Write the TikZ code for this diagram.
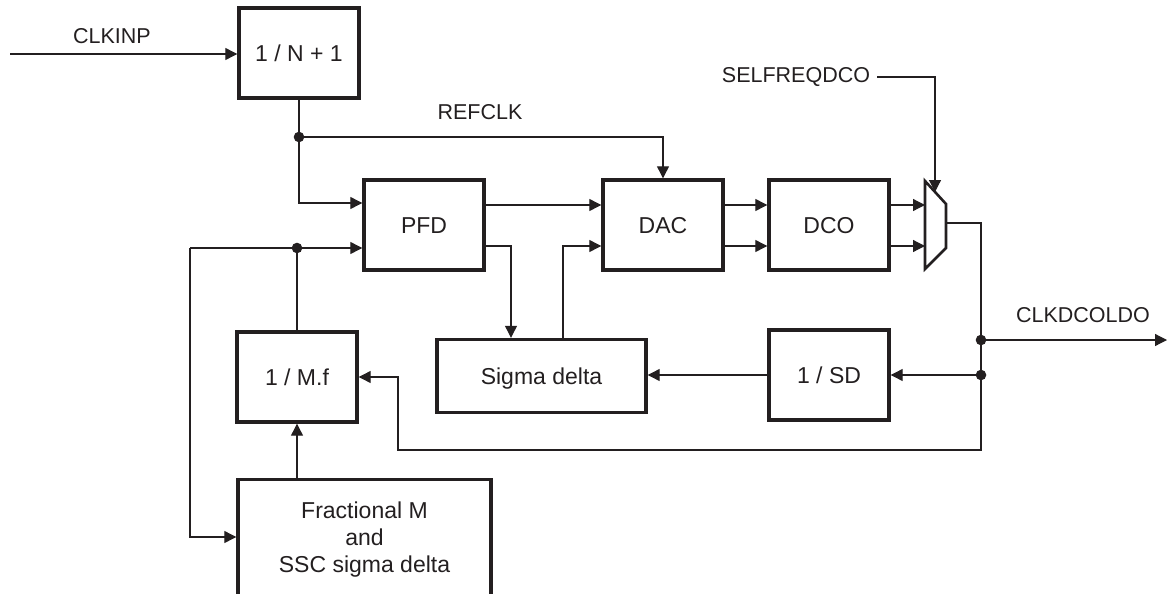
\documentclass[tikz,border=0pt]{standalone}
\usepackage{fontspec}
\setmainfont{Liberation Sans}
\usetikzlibrary{arrows.meta,calc}
\definecolor{ink}{HTML}{231F20}
\begin{document}
\begin{tikzpicture}[x=1pt,y=-1pt,
  blk/.style={draw=ink, line width=3.4pt, inner sep=0pt, font=\fontsize{23}{27}\selectfont, text=ink},
  bw/.style={minimum width=120pt, minimum height=90pt, text height=16.5pt, text depth=0pt},
  lbl/.style={font=\fontsize{21.5}{25}\selectfont, text=ink, inner sep=0pt},
  conn/.style={draw=ink, line width=1.2pt},
  arr/.style={conn, -{Triangle[length=12pt,width=12pt]}},
  jdot/.style={fill=ink}]

\useasboundingbox (0,0) rectangle (1167,594);
\clip (0,0) rectangle (1167,594);

% blocks
\node[blk,bw] (divn) at (299,53) {1 / N + 1};
\node[blk,bw] (pfd) at (424,225) {PFD};
\node[blk,bw] (dac) at (663,225) {DAC};
\node[blk,bw] (dco) at (829,225) {DCO};
\node[blk,minimum width=209pt,minimum height=73pt,text height=16.5pt,text depth=0pt] (sigma) at (541.5,376) {Sigma delta};
\node[blk,bw] (sdiv) at (829,375) {1 / SD};
\node[blk,bw] (mf) at (297,377) {1 / M.f};
\node[blk,minimum width=253pt,minimum height=121pt,align=center] (frac) at (364.5,540) {Fractional M\\and\\SSC sigma delta};

% labels
\node[lbl] (clkinp) at (112,36) {CLKINP};
\node[lbl] (refclk) at (480,112) {REFCLK};
\node[lbl] (sel) at (796,77) {SELFREQDCO};
\node[lbl] (clkout) at (1083,315) {CLKDCOLDO};

% mux
\coordinate (m1) at (925,181);
\coordinate (m2) at (946,204);
\coordinate (m3) at (946,248);
\coordinate (m4) at (925,269);
\draw[ink, line width=2.6pt, line join=miter] (m1) -- (m2) -- (m3) -- (m4) -- cycle;

% coordinates
\coordinate (inL) at (10,54);
\coordinate (j1) at (299,137);
\coordinate (j4) at (297,248);
\coordinate (lc) at (190,248);
\coordinate (mo) at (946,223);
\coordinate (r1) at (981,223);
\coordinate (j2) at (981,340);
\coordinate (j3) at (981,375);
\coordinate (b1) at (398,450);
\coordinate (out) at (1167,340);
\coordinate (ms) at (935,192);

% connectors
\draw[arr] (inL) -- (inL -| divn.west);
\draw[conn] (divn.south) -- (j1);
\draw[arr] (j1) |- ([yshift=22pt]pfd.west);
\draw[arr] (j1) -| (dac.north);
\draw[arr] ([yshift=20pt]pfd.east) -- ([yshift=20pt]dac.west);
\draw[arr] ([yshift=-21pt]pfd.east) -| ([xshift=-30.5pt]sigma.north);
\draw[arr] ([xshift=21.5pt]sigma.north) |- ([yshift=-21pt]dac.west);
\draw[arr] ([yshift=20pt]dac.east) -- ([yshift=20pt]dco.west);
\draw[arr] ([yshift=-21pt]dac.east) -- ([yshift=-21pt]dco.west);
\draw[arr] ([yshift=20pt]dco.east) -- ([yshift=20pt]dco.east -| m1);
\draw[arr] ([yshift=-21pt]dco.east) -- ([yshift=-21pt]dco.east -| m1);
\draw[arr] ([xshift=7pt]sel.east) -| (ms);
\draw[conn] (mo) -- (r1) -- (j3);
\draw[arr] (j2) -- (out);
\draw[arr] (j3) -- (j3 -| sdiv.east);
\draw[arr] (sdiv.west) -- (sdiv.west -| sigma.east);
\draw[arr] (j3) |- (b1) |- (mf.east);
\draw[arr] (lc) -- ([yshift=-23pt]pfd.west);
\draw[conn] (j4) -- (mf.north);
\draw[arr] (lc) |- ([yshift=3pt]frac.west);
\draw[arr] (frac.north -| mf.south) -- (mf.south);

% junction dots
\foreach \p in {j1,j2,j3,j4} \fill[jdot] (\p) circle (5.3pt);
\end{tikzpicture}
\end{document}
